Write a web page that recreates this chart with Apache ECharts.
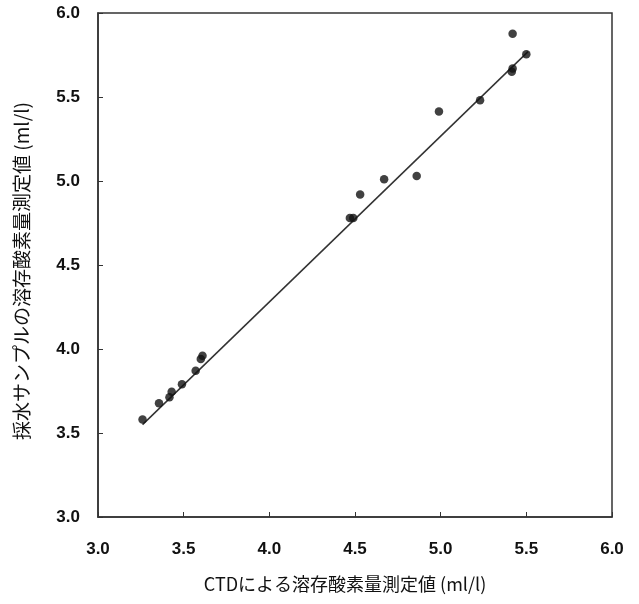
<!DOCTYPE html>
<html>
<head>
<meta charset="utf-8">
<script src="https://cdn.jsdelivr.net/npm/echarts@6/dist/echarts.min.js"></script>
<style>html,body{margin:0;padding:0;background:#fff}#c{width:639px;height:604px}</style>
</head>
<body>
<div id="c"></div>
<script>
var xTitle = 'CTDによる溶存酸素量測定値 (ml/l)';
var yTitle = '採水サンプルの溶存酸素量測定値 (ml/l)';
var ctdValues = [3.26, 3.356, 3.417, 3.43, 3.49, 3.57, 3.60, 3.61, 4.47, 4.49, 4.53, 4.67, 4.86, 4.99, 5.23, 5.415, 5.42, 5.42, 5.50];
var sampleValues = [3.58, 3.677, 3.713, 3.746, 3.79, 3.87, 3.94, 3.96, 4.78, 4.78, 4.92, 5.01, 5.03, 5.414, 5.48, 5.65, 5.67, 5.876, 5.755];
var fitX = [3.26, 5.51];
var fitY = [3.55, 5.77];

var points = ctdValues.map(function (v, i) { return [v, sampleValues[i]]; });
var fitLine = fitX.map(function (v, i) { return [v, fitY[i]]; });

var chart = echarts.init(document.getElementById('c'), null, {renderer: 'canvas'});
chart.setOption({
  backgroundColor: '#ffffff',
  animation: false,
  grid: {left: 98, right: 27, top: 13, bottom: 87, show: true, borderColor: '#333', borderWidth: 1.5, backgroundColor: 'transparent'},
  xAxis: {
    type: 'value', min: 3.0, max: 6.0, interval: 0.5,
    axisLine: {show: true, lineStyle: {color: '#333', width: 1.5}},
    axisTick: {show: true, inside: true, length: 5, lineStyle: {color: '#333'}},
    splitLine: {show: false},
    axisLabel: {margin: 24, color: '#111', fontSize: 17, fontWeight: 'bold', fontFamily: 'Liberation Sans', formatter: function (v) { return v.toFixed(1); }}
  },
  yAxis: {
    type: 'value', min: 3.0, max: 6.0, interval: 0.5,
    axisLine: {show: true, lineStyle: {color: '#333', width: 1.5}},
    axisTick: {show: true, inside: true, length: 5, lineStyle: {color: '#333'}},
    splitLine: {show: false},
    axisLabel: {margin: 18, color: '#111', fontSize: 17, fontWeight: 'bold', fontFamily: 'Liberation Sans', formatter: function (v) { return v.toFixed(1); }}
  },
  graphic: [
    {type: 'text', x: 345, y: 584, style: {text: xTitle, fill: '#111', font: '18px "Noto Sans CJK JP"', align: 'center', verticalAlign: 'middle'}},
    {type: 'text', x: 22, y: 271, rotation: Math.PI / 2, style: {text: yTitle, fill: '#111', font: '19px "Noto Sans CJK JP"', align: 'center', verticalAlign: 'middle'}}
  ],
  series: [
    {type: 'line', data: fitLine, showSymbol: false, symbol: 'none', lineStyle: {color: '#333', width: 1.5}, z: 2},
    {type: 'scatter', data: points, symbol: 'circle', symbolSize: 8.5, itemStyle: {color: '#111'}, z: 3}
  ]
});
</script>
</body>
</html>
